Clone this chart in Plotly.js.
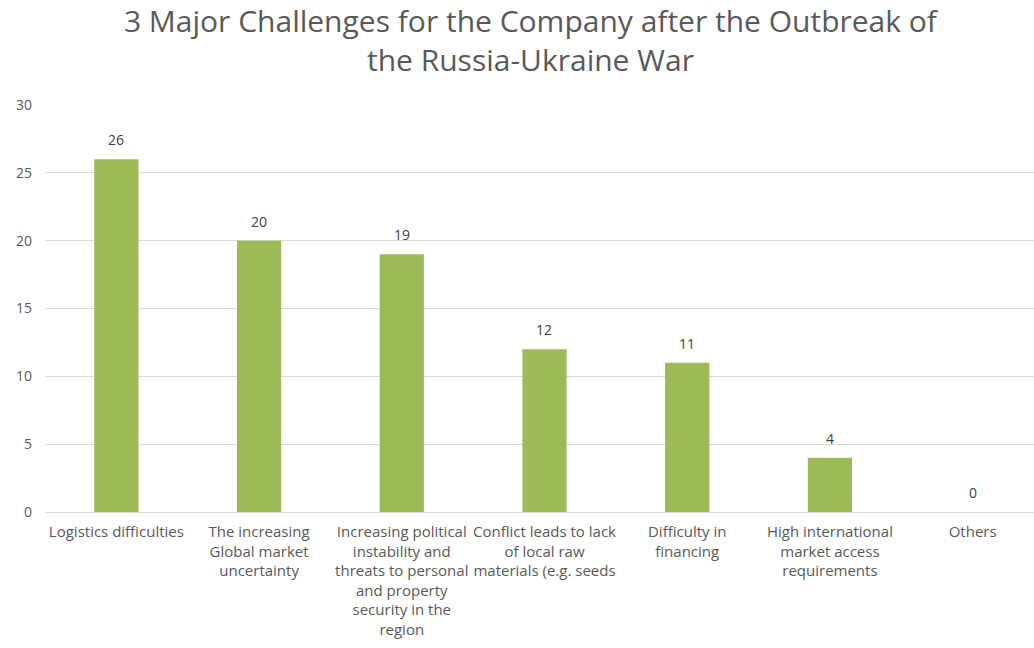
<!DOCTYPE html>
<html>
<head>
<meta charset="utf-8">
<script src="https://cdn.plot.ly/plotly-3.0.1.min.js"></script>
<style>html,body{margin:0;padding:0;background:#fff;}#chart{width:1034px;height:648px;}</style>
</head>
<body>
<div id="chart"></div>
<script>
const categories = [
  "Logistics difficulties",
  "The increasing<br>Global market<br>uncertainty",
  "Increasing political<br>instability and<br>threats to personal<br>and property<br>security in the<br>region",
  "Conflict leads to lack<br>of local raw<br>materials (e.g. seeds",
  "Difficulty in<br>financing",
  "High international<br>market access<br>requirements",
  "Others"
];
const values = [26, 20, 19, 12, 11, 4, 0];
const yTicks = [0, 5, 10, 15, 20, 25, 30];
const titleText = "3 Major Challenges for the Company after the Outbreak of<br>the Russia-Ukraine War";

const font = "Open Sans, Noto Sans, sans-serif";
const labelAnnotations = categories.map((c, i) => ({
  x: c, y: values[i], xref: "x", yref: "y", text: String(values[i]),
  showarrow: false, yanchor: "bottom", yshift: 8,
  font: {family: font, size: 14, color: "#404040"}
}));
Plotly.newPlot("chart", [{
  type: "bar",
  x: categories,
  y: values,
  marker: {color: "#9BBB59"},
  hoverinfo: "none"
}], {
  width: 1034, height: 648,
  paper_bgcolor: "#fff", plot_bgcolor: "#fff",
  margin: {l: 45, r: 0, t: 105, b: 136},
  bargap: 0.69,
  title: {text: titleText, x: 0.513, xanchor: "center", y: 0.95, yanchor: "middle",
          font: {family: font, size: 30, color: "#595959"}},
  annotations: labelAnnotations,
  xaxis: {tickfont: {family: font, size: 15, color: "#595959"}, showgrid: false,
          range: [-0.5, 6.43],
          showline: true, linecolor: "#d9d9d9", linewidth: 1, ticks: "", ticklabelstandoff: 6, automargin: false},
  yaxis: {range: [0, 30], tickvals: yTicks, ticks: "", showgrid: true, gridcolor: "#d9d9d9",
          zeroline: true, zerolinecolor: "#d9d9d9", ticklabelstandoff: 12,
          tickfont: {family: font, size: 14, color: "#595959"}, automargin: false},
  showlegend: false
}, {displayModeBar: false, staticPlot: true});
</script>
</body>
</html>
